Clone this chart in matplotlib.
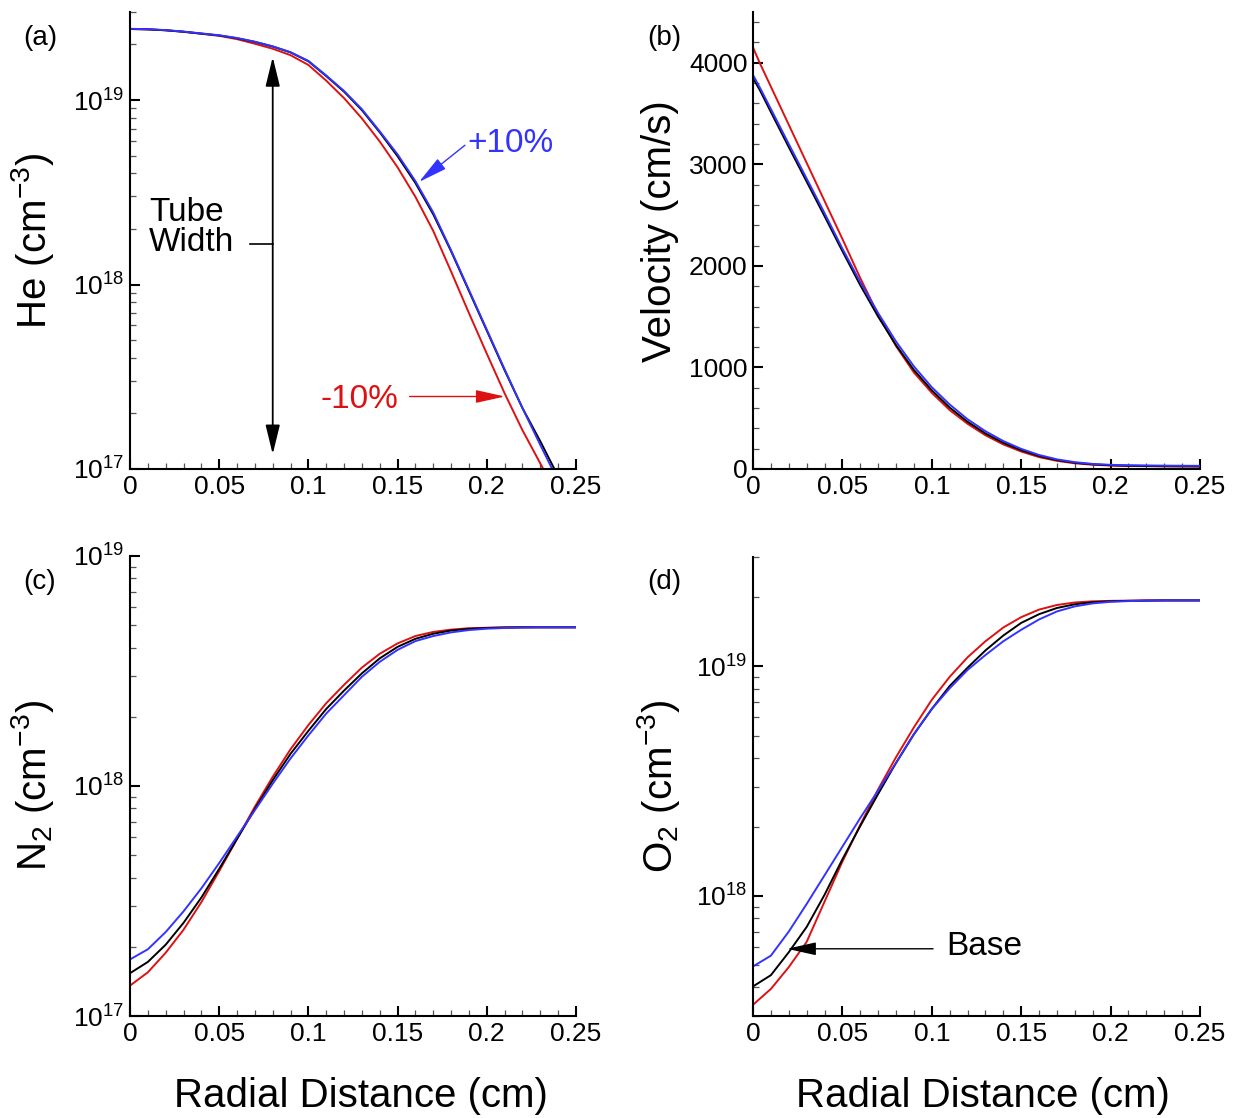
import matplotlib
matplotlib.use("Agg")
import matplotlib.pyplot as plt
from matplotlib.ticker import MultipleLocator, FixedLocator, FuncFormatter, NullFormatter
import numpy as np

plt.rcParams['font.family'] = ['Liberation Sans', 'DejaVu Sans']
plt.rcParams['mathtext.fontset'] = 'custom'
plt.rcParams['mathtext.rm'] = 'Liberation Sans'
plt.rcParams['mathtext.it'] = 'Liberation Sans:italic'
plt.rcParams['mathtext.bf'] = 'Liberation Sans:bold'

RED = '#dd1111'
BLUE = '#3333ff'

# radial distance (cm)
r = [0.00, 0.01, 0.02, 0.03, 0.04, 0.05, 0.06, 0.07, 0.08, 0.09, 0.10, 0.11, 0.12,
     0.13, 0.14, 0.15, 0.16, 0.17, 0.18, 0.19, 0.20, 0.21, 0.22, 0.23, 0.24, 0.25]
r_vel = [0.0, 0.004] + r[1:]

# He density, log10(cm^-3)
he_base = [19.385, 19.383, 19.378, 19.370, 19.360, 19.350, 19.335, 19.315, 19.290, 19.258,
           19.210, 19.130, 19.045, 18.945, 18.825, 18.695, 18.550, 18.380, 18.180, 17.965,
           17.750, 17.535, 17.330, 17.150, 16.960, 16.770]
he_minus = [19.385, 19.383, 19.378, 19.370, 19.359, 19.348, 19.330, 19.305, 19.278, 19.243,
            19.190, 19.105, 19.010, 18.900, 18.775, 18.635, 18.475, 18.290, 18.070, 17.845,
            17.625, 17.410, 17.210, 17.030, 16.850, 16.660]
he_plus = [19.386, 19.384, 19.379, 19.371, 19.361, 19.351, 19.336, 19.316, 19.291, 19.259,
           19.212, 19.133, 19.049, 18.950, 18.830, 18.705, 18.560, 18.390, 18.185, 17.970,
           17.755, 17.540, 17.330, 17.130, 16.935, 16.740]

# velocity (cm/s)
vel_base = [3850, 3725, 3515, 3170, 2830, 2490, 2145, 1810, 1500, 1220, 975, 775, 605, 465,
            350, 258, 185, 128, 88, 62, 46, 37, 32, 30, 28, 27, 26]
vel_minus = [4150, 3990, 3765, 3390, 3015, 2640, 2265, 1880, 1520, 1210, 950, 750, 580, 445,
             332, 242, 172, 117, 80, 56, 42, 34, 30, 28, 26, 25, 24]
vel_plus = [3880, 3750, 3545, 3200, 2860, 2520, 2170, 1840, 1535, 1255, 1010, 805, 635, 490,
            372, 275, 198, 138, 95, 67, 50, 41, 37, 35, 33, 32, 31]

# N2 density, log10(cm^-3)
n2_base = [17.186, 17.235, 17.310, 17.405, 17.515, 17.640, 17.770, 17.900, 18.025, 18.140,
           18.240, 18.335, 18.415, 18.490, 18.555, 18.605, 18.640, 18.662, 18.676, 18.683,
           18.687, 18.689, 18.690, 18.690, 18.690, 18.690]
n2_minus = [17.132, 17.190, 17.275, 17.375, 17.495, 17.630, 17.770, 17.910, 18.040, 18.160,
            18.265, 18.360, 18.440, 18.515, 18.575, 18.620, 18.652, 18.670, 18.680, 18.686,
            18.688, 18.690, 18.690, 18.690, 18.690, 18.690]
n2_plus = [17.246, 17.290, 17.365, 17.455, 17.555, 17.665, 17.780, 17.895, 18.010, 18.120,
           18.220, 18.315, 18.395, 18.475, 18.540, 18.592, 18.630, 18.652, 18.668, 18.678,
           18.684, 18.687, 18.689, 18.690, 18.690, 18.690]

# O2 density, log10(cm^-3)
o2_base = [17.606, 17.655, 17.755, 17.865, 18.005, 18.160, 18.305, 18.445, 18.580, 18.705,
           18.815, 18.915, 18.995, 19.070, 19.135, 19.190, 19.228, 19.255, 19.271, 19.280,
           19.284, 19.286, 19.287, 19.288, 19.288, 19.288]
o2_minus = [17.526, 17.595, 17.690, 17.800, 17.975, 18.150, 18.310, 18.465, 18.605, 18.735,
            18.855, 18.955, 19.040, 19.110, 19.170, 19.215, 19.248, 19.268, 19.279, 19.284,
            19.286, 19.287, 19.288, 19.288, 19.288, 19.288]
o2_plus = [17.693, 17.740, 17.845, 17.965, 18.090, 18.215, 18.340, 18.460, 18.580, 18.705,
           18.815, 18.905, 18.985, 19.050, 19.110, 19.160, 19.205, 19.240, 19.262, 19.275,
           19.282, 19.285, 19.287, 19.288, 19.288, 19.288]

W, H = 1239, 1118


def box(left, top, right, bottom):
    return [left / W, 1 - bottom / H, (right - left) / W, (bottom - top) / H]


def style(ax, log):
    for s in ['top', 'right']:
        ax.spines[s].set_visible(False)
    for s in ['left', 'bottom']:
        ax.spines[s].set_linewidth(1.5)
    ax.set_xlim(0, 0.25)
    ax.xaxis.set_major_locator(FixedLocator([0, 0.05, 0.1, 0.15, 0.2, 0.25]))
    ax.xaxis.set_minor_locator(MultipleLocator(0.01))
    ax.xaxis.set_major_formatter(FuncFormatter(lambda v, p: f'{v:g}'))
    ax.tick_params(which='both', direction='in', top=False, right=False, labelsize=19)
    ax.tick_params(which='major', length=7.5, width=1.5, pad=4)
    ax.tick_params(which='minor', length=4.5, width=0.9, color='#555555')
    if log:
        ax.set_yscale('log')
        ax.yaxis.set_major_formatter(
            FuncFormatter(lambda v, p: r'$\mathregular{10^{%d}}$' % round(np.log10(v))))
        ax.yaxis.set_minor_formatter(NullFormatter())


def curves(ax, x, base, minus, plus, log=True):
    f = (lambda a: 10 ** np.array(a)) if log else (lambda a: np.array(a))
    ax.plot(x, f(minus), color=RED, lw=1.4)
    ax.plot(x, f(base), color='black', lw=1.4)
    ax.plot(x, f(plus), color=BLUE, lw=1.4)


fig = plt.figure(figsize=(W / 100, H / 100), dpi=100)

# (a) He
ax = fig.add_axes(box(130, 12, 576, 469))
style(ax, True)
curves(ax, r, he_base, he_minus, he_plus)
ax.set_ylim(1e17, 3e19)
ax.set_ylabel(r'He (cm$^{\mathregular{-3}}$)', fontsize=29)
ax.yaxis.set_label_coords(-0.165, 0.5)
ax.annotate('', xy=(0.08, 10 ** 17.08), xytext=(0.08, 10 ** 19.233),
            arrowprops=dict(arrowstyle='<|-|>,head_length=0.9,head_width=0.22', color='black',
                            lw=1.3, shrinkA=0, shrinkB=0, mutation_scale=20))
ax.plot([0.0674, 0.08], [10 ** 18.221, 10 ** 18.221], color='black', lw=1.2)
ax.text(0.0107, 10 ** 18.31, 'Tube\nWidth', fontsize=24, ha='left', va='center',
        linespacing=0.95)
ax.annotate('+10%', xy=(0.162, 10 ** 18.556), xytext=(0.1893, 10 ** 18.767), color=BLUE,
            fontsize=24, ha='left', va='center',
            arrowprops=dict(arrowstyle='-|>,head_length=0.9,head_width=0.2', color=BLUE,
                            lw=1.0, shrinkA=0, shrinkB=0, mutation_scale=20, relpos=(0, 0.5)))
ax.text(0.1067, 10 ** 17.377, '-10%', color=RED, fontsize=24, ha='left', va='center')
ax.annotate('', xy=(0.2101, 10 ** 17.393), xytext=(0.1567, 10 ** 17.393),
            arrowprops=dict(arrowstyle='-|>,head_length=0.9,head_width=0.2', color=RED,
                            lw=1.0, shrinkA=0, shrinkB=0, mutation_scale=20))

# (b) velocity
ax = fig.add_axes(box(753, 12, 1200, 469))
style(ax, False)
curves(ax, r_vel, vel_base, vel_minus, vel_plus, log=False)
ax.set_ylim(0, 4500)
ax.yaxis.set_major_locator(FixedLocator([0, 1000, 2000, 3000, 4000]))
ax.yaxis.set_minor_locator(MultipleLocator(200))
ax.set_ylabel('Velocity (cm/s)', fontsize=29)
ax.yaxis.set_label_coords(-0.166, 0.52)

# (c) N2
ax = fig.add_axes(box(130, 556, 576, 1016))
style(ax, True)
curves(ax, r, n2_base, n2_minus, n2_plus)
ax.set_ylim(1e17, 1e19)
ax.set_ylabel(r'N$_{\mathregular{2}}$ (cm$^{\mathregular{-3}}$)', fontsize=29)
ax.yaxis.set_label_coords(-0.165, 0.5)
ax.set_xlabel('Radial Distance (cm)', fontsize=29)
ax.xaxis.set_label_coords(0.518, -0.133)

# (d) O2
ax = fig.add_axes(box(753, 557, 1200, 1016))
style(ax, True)
curves(ax, r, o2_base, o2_minus, o2_plus)
ax.set_ylim(3e17, 3e19)
ax.set_ylabel(r'O$_{\mathregular{2}}$ (cm$^{\mathregular{-3}}$)', fontsize=29)
ax.yaxis.set_label_coords(-0.159, 0.5)
ax.set_xlabel('Radial Distance (cm)', fontsize=29)
ax.xaxis.set_label_coords(0.515, -0.133)
ax.text(0.108, 10 ** 17.778, 'Base', fontsize=24, ha='left', va='center')
ax.annotate('', xy=(0.019, 10 ** 17.77), xytext=(0.1007, 10 ** 17.77),
            arrowprops=dict(arrowstyle='-|>,head_length=0.9,head_width=0.2', color='black',
                            lw=1.0, shrinkA=0, shrinkB=0, mutation_scale=20))

for label, (px, py) in zip(['(a)', '(b)', '(c)', '(d)'],
                           [(40, 38), (664, 38), (40, 582), (664, 582)]):
    fig.text(px / W, 1 - py / H, label, fontsize=20, ha='center', va='center')

fig.savefig('out.png', dpi=100)
